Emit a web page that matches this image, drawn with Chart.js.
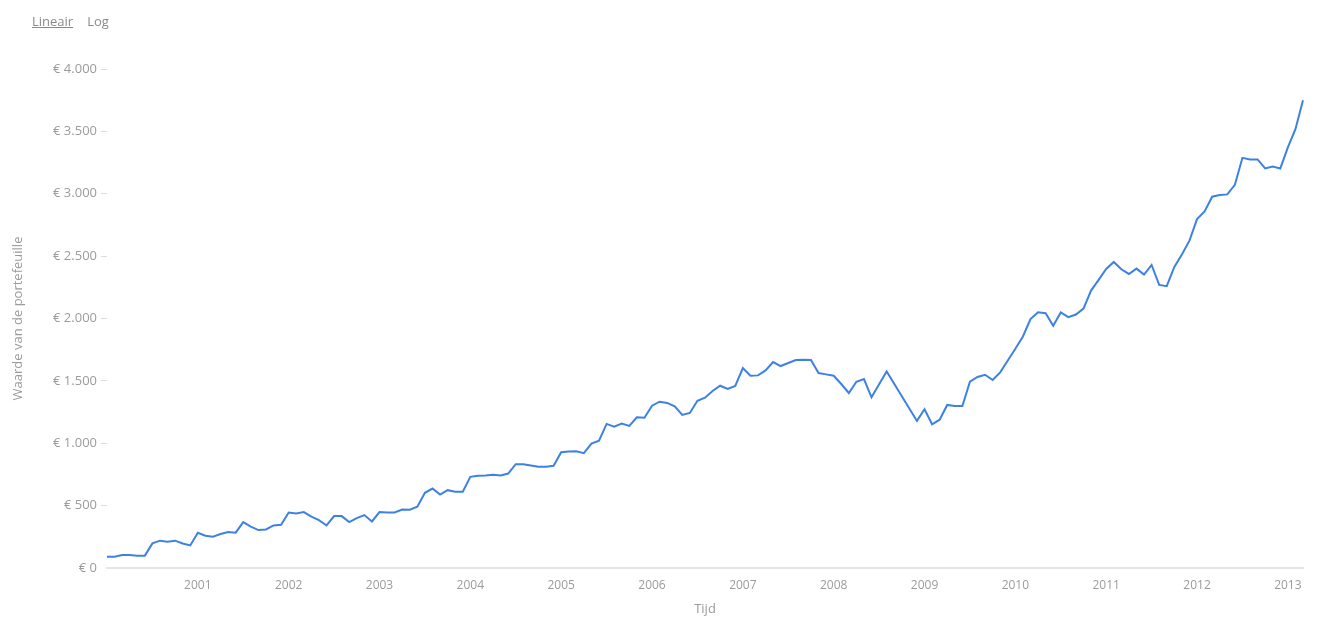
<!DOCTYPE html>
<html>
<head>
<meta charset="utf-8">
<script src="https://cdn.jsdelivr.net/npm/chart.js@4"></script>
<style>
    body { margin: 0; background: #fff; font-family: 'Open Sans', sans-serif; }
    #wrap { position: absolute; left: 0; top: 0; width: 1322px; height: 634px; }
    #schaal { position: absolute; left: 32px; top: 12px; font-size: 13px; color: #8a8a8a; z-index: 2; }
    #schaal span { margin-right: 14px; cursor: pointer; }
    #schaal .actief { text-decoration: underline; }
</style>
</head>
<body>
<div id="schaal"><span class="actief">Lineair</span><span>Log</span></div>
<div id="wrap"><canvas id="waardeChart"></canvas></div>
<script>
// maanden 2000-01 t/m 2013-03
const jaren = [2000, 2001, 2002, 2003, 2004, 2005, 2006, 2007, 2008, 2009, 2010, 2011, 2012, 2013];
const maanden = [];
jaren.forEach(j => {
    const aantal = j === 2013 ? 3 : 12;
    for (let m = 1; m <= aantal; m++) maanden.push(j + '-' + String(m).padStart(2, '0'));
});

const waarden = [
    91, 91, 104, 104, 99, 99, 197, 219, 211, 219, 197, 181,
    283, 259, 251, 272, 288, 283, 368, 331, 304, 309, 341, 347,
    445, 437, 448, 411, 384, 341, 416, 416, 368, 400, 424, 373,
    448, 445, 445, 469, 467, 491, 603, 637, 589, 624, 611, 611,
    731, 739, 741, 747, 741, 757, 832, 832, 821, 811, 811, 819,
    928, 933, 936, 920, 997, 1021, 1155, 1133, 1157, 1139, 1208, 1205,
    1301, 1333, 1323, 1296, 1227, 1243, 1341, 1365, 1419, 1461, 1435, 1459,
    1603, 1541, 1544, 1584, 1651, 1619, 1643, 1667, 1669, 1667, 1563, 1552,
    1541, 1475, 1403, 1493, 1515, 1368, 1472, 1576, null, null, null, 1179,
    1272, 1152, 1189, 1307, 1299, 1299, 1493, 1531, 1549, 1507, 1568, 1664,
    1757, 1856, 1995, 2050, 2043, 1941, 2048, 2011, 2032, 2080, 2224, 2309,
    2397, 2453, 2395, 2357, 2400, 2352, 2429, 2269, 2259, 2413, 2513, 2624,
    2797, 2859, 2976, 2990, 2995, 3072, 3288, 3275, 3275, 3203, 3219, 3203,
    3371, 3517, 3749
];

// jaarlabels op de x-as (januari)
const jaarLabels = ['2001', '2002', '2003', '2004', '2005', '2006', '2007', '2008', '2009', '2010', '2011', '2012', '2013'];
const yTicks = [0, 500, 1000, 1500, 2000, 2500, 3000, 3500, 4000];

const grijs = '#9b9b9b';
const lettertype = "'Open Sans', sans-serif";

const ctx = document.getElementById('waardeChart').getContext('2d');
const chart = new Chart(ctx, {
    type: 'line',
    data: {
        labels: maanden,
        datasets: [{
            label: 'Waarde',
            data: waarden,
            borderColor: '#3d82e3',
            borderWidth: 2,
            pointRadius: 0,
            tension: 0,
            spanGaps: true,
            fill: false
        }]
    },
    options: {
        responsive: true,
        maintainAspectRatio: false,
        animation: false,
        layout: { padding: { top: 69, right: 19, left: 0, bottom: 0 } },
        plugins: { legend: { display: false }, tooltip: { enabled: false } },
        scales: {
            x: {
                grid: { display: false, drawTicks: false },
                border: { display: true, color: '#e6e6e6', width: 2 },
                ticks: {
                    autoSkip: false,
                    maxRotation: 0,
                    padding: 10,
                    color: grijs,
                    font: { family: lettertype, size: 12 },
                    callback: function (val, i) {
                        const lab = maanden[i];
                        const jaar = lab.slice(0, 4);
                        return lab.endsWith('-01') && jaarLabels.includes(jaar) ? jaar : '';
                    }
                },
                title: {
                    display: true,
                    text: 'Tijd',
                    color: grijs,
                    font: { family: lettertype, size: 13 },
                    padding: { top: 4, bottom: 17 }
                },
                afterFit: s => { s.height = 66; }
            },
            y: {
                min: 0,
                max: 4000,
                afterBuildTicks: s => { s.ticks = yTicks.map(v => ({ value: v })); },
                grid: {
                    drawOnChartArea: false,
                    tickLength: 6,
                    color: c => (c.tick && c.tick.value === 0) ? 'rgba(0,0,0,0)' : '#dcdcdc'
                },
                border: { display: false },
                ticks: {
                    padding: 4,
                    color: grijs,
                    font: { family: lettertype, size: 13 },
                    callback: v => '€ ' + v.toLocaleString('nl-NL')
                },
                title: {
                    display: true,
                    text: 'Waarde van de portefeuille',
                    color: grijs,
                    font: { family: lettertype, size: 13 },
                    padding: { top: 10, bottom: 0 }
                },
                afterFit: s => { s.width = 107; }
            }
        }
    }
});
</script>
</body>
</html>
